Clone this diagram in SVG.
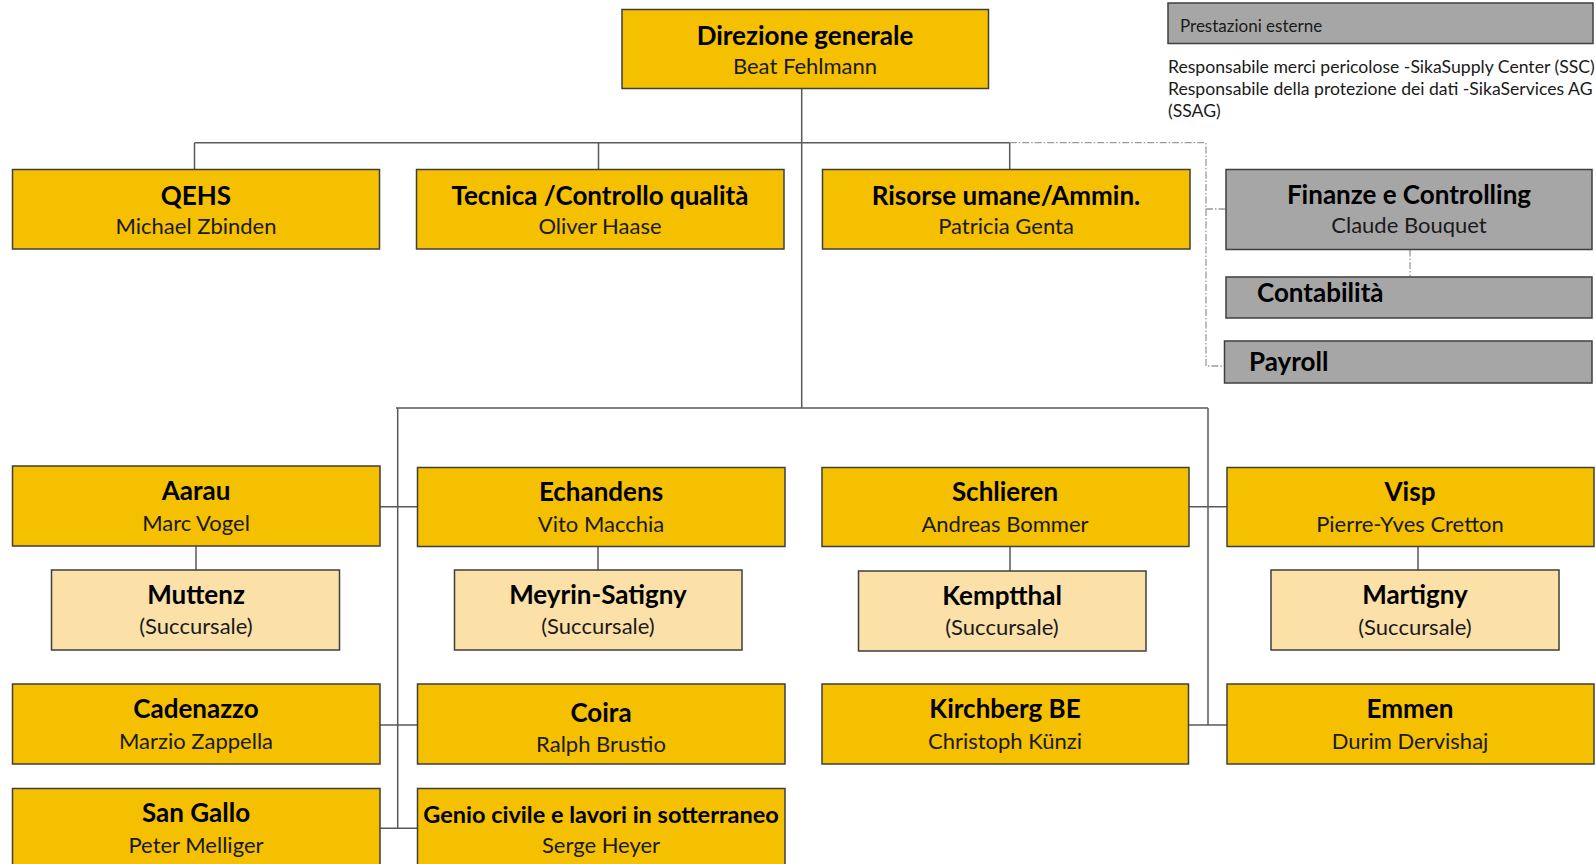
<svg xmlns="http://www.w3.org/2000/svg" width="1596" height="864" viewBox="0 0 1596 864">
<style>
.b{stroke:#3f3f3f;stroke-width:1.5}
.y{fill:#f4c000}
.l{fill:#fbe0a7}
.g{fill:#a6a6a6}
.t{font-family:Lato,"Liberation Sans",sans-serif;font-weight:bold;font-size:26px;fill:#000;text-anchor:middle}
.s{font-family:Lato,"Liberation Sans",sans-serif;font-size:22px;fill:#1a1a1a;text-anchor:middle}
.n{font-family:Lato,"Liberation Sans",sans-serif;font-size:17.6px;fill:#1a1a1a}
.c{fill:none;stroke:#595959;stroke-width:1.5}
.d{fill:none;stroke:#9a9a9a;stroke-width:1.3;stroke-dasharray:7 2 1.5 2}
</style>
<rect width="1596" height="864" fill="#fff"/>
<g id="connectors">
<path class="c" d="M801.7 88.5V408M194.5 142.7H1009.7M194.5 142.7V169.5M598.5 142.7V169.5M1009.7 142.7V169.5"/>
<path class="d" d="M1009.7 142.7H1206V366H1224.5M1206 209H1226M1410 249.5V277"/>
<path class="c" d="M396 408H1208M397.7 408V828.3M1208 408V725M380 506.7H417.5M1189 506.7H1227M380 725H417.5M1188.5 725H1227M380 828.3H417.5M196 546V570M598 546.5V570M1010 546.5V571M1418 546.5V570"/>
</g>
<g id="direzione"><rect class="b y" x="622" y="9.5" width="366.5" height="79"/><text class="t" x="805" y="45">Direzione generale</text><text class="s" x="805" y="74">Beat Fehlmann</text></g>
<g id="prestazioni"><rect class="b g" x="1168" y="3" width="425" height="40.5"/><text class="n" x="1180" y="32" style="font-size:17px">Prestazioni esterne</text>
<text class="n" x="1168" y="73">Responsabile merci pericolose -SikaSupply Center (SSC)</text>
<text class="n" x="1168" y="95">Responsabile della protezione dei dati -SikaServices AG</text>
<text class="n" x="1168" y="116.5">(SSAG)</text></g>
<g id="qehs"><rect class="b y" x="12.5" y="169.5" width="367" height="79.5"/><text class="t" x="196" y="205">QEHS</text><text class="s" x="196" y="234">Michael Zbinden</text></g>
<g id="tecnica"><rect class="b y" x="416.5" y="169.5" width="367.5" height="79.5"/><text class="t" x="600" y="205">Tecnica /Controllo qualità</text><text class="s" x="600" y="234">Oliver Haase</text></g>
<g id="risorse"><rect class="b y" x="822.5" y="169.5" width="367.5" height="79.5"/><text class="t" x="1006" y="205">Risorse umane/Ammin.</text><text class="s" x="1006" y="234">Patricia Genta</text></g>
<g id="finanze"><rect class="b g" x="1226" y="169.5" width="366" height="80"/><text class="t" x="1409" y="204">Finanze e Controlling</text><text class="s" x="1409" y="233">Claude Bouquet</text></g>
<g id="contabilita"><rect class="b g" x="1226" y="277" width="366" height="41"/><text class="t" x="1257" y="302" style="text-anchor:start">Contabilità</text></g>
<g id="payroll"><rect class="b g" x="1224.5" y="341" width="367.5" height="42"/><text class="t" x="1249" y="371" style="text-anchor:start">Payroll</text></g>
<g id="aarau"><rect class="b y" x="12.5" y="466" width="367.5" height="80"/><text class="t" x="196" y="500">Aarau</text><text class="s" x="196" y="531">Marc Vogel</text></g>
<g id="echandens"><rect class="b y" x="417.5" y="467.5" width="367.5" height="79"/><text class="t" x="601" y="501">Echandens</text><text class="s" x="601" y="532">Vito Macchia</text></g>
<g id="schlieren"><rect class="b y" x="822" y="467.5" width="367" height="79"/><text class="t" x="1005" y="501">Schlieren</text><text class="s" x="1005" y="532">Andreas Bommer</text></g>
<g id="visp"><rect class="b y" x="1227" y="467.5" width="367" height="79"/><text class="t" x="1410" y="501">Visp</text><text class="s" x="1410" y="532">Pierre-Yves Cretton</text></g>
<g id="muttenz"><rect class="b l" x="51.5" y="570" width="288" height="80"/><text class="t" x="196" y="604">Muttenz</text><text class="s" x="196" y="634">(Succursale)</text></g>
<g id="meyrin"><rect class="b l" x="454.5" y="570" width="287.5" height="80"/><text class="t" x="598" y="604">Meyrin-Satigny</text><text class="s" x="598" y="634">(Succursale)</text></g>
<g id="kemptthal"><rect class="b l" x="858.5" y="571" width="287.5" height="80"/><text class="t" x="1002" y="605">Kemptthal</text><text class="s" x="1002" y="635">(Succursale)</text></g>
<g id="martigny"><rect class="b l" x="1271" y="570" width="288" height="80"/><text class="t" x="1415" y="604">Martigny</text><text class="s" x="1415" y="635">(Succursale)</text></g>
<g id="cadenazzo"><rect class="b y" x="12.5" y="684" width="367.5" height="80"/><text class="t" x="196" y="718">Cadenazzo</text><text class="s" x="196" y="749">Marzio Zappella</text></g>
<g id="coira"><rect class="b y" x="417.5" y="684" width="367.5" height="80"/><text class="t" x="601" y="722">Coira</text><text class="s" x="601" y="752">Ralph Brustio</text></g>
<g id="kirchberg"><rect class="b y" x="822" y="684" width="366.5" height="80"/><text class="t" x="1005" y="718">Kirchberg BE</text><text class="s" x="1005" y="749">Christoph Künzi</text></g>
<g id="emmen"><rect class="b y" x="1227" y="684" width="367" height="80"/><text class="t" x="1410" y="718">Emmen</text><text class="s" x="1410" y="749">Durim Dervishaj</text></g>
<g id="sangallo"><rect class="b y" x="12.5" y="788.5" width="367.5" height="80"/><text class="t" x="196" y="822">San Gallo</text><text class="s" x="196" y="853">Peter Melliger</text></g>
<g id="genio"><rect class="b y" x="417.5" y="788.5" width="367.5" height="80"/><text class="t" x="601" y="823" style="font-size:23.5px">Genio civile e lavori in sotterraneo</text><text class="s" x="601" y="853">Serge Heyer</text></g>
</svg>
